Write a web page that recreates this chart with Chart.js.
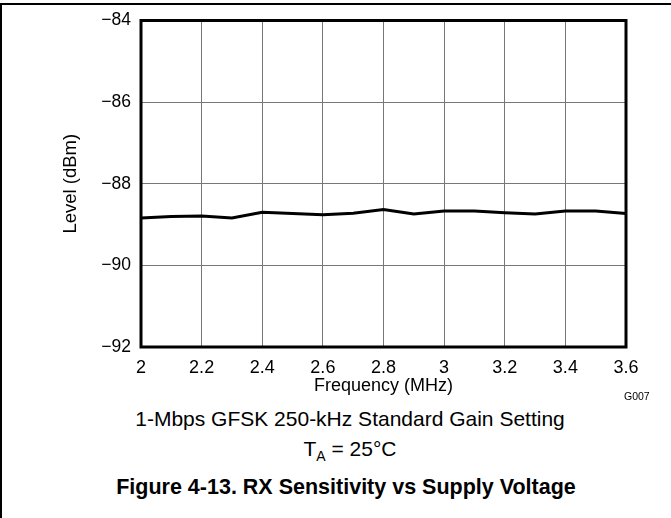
<!DOCTYPE html>
<html>
<head>
<meta charset="utf-8">
<script src="https://cdn.jsdelivr.net/npm/chart.js@4/dist/chart.umd.min.js"></script>
<style>
  html, body { margin: 0; padding: 0; background: #fff; }
  body { width: 671px; height: 518px; position: relative; overflow: hidden;
         font-family: "Liberation Sans", Arial, sans-serif; color: #000; }
  #frame { position: absolute; left: 0; top: 3px; width: 671px; height: 515px;
           border-top: 2px solid #000; border-left: 2px solid #000; box-sizing: border-box; }
  #wrap { position: absolute; left: 0; top: 0; width: 671px; height: 400px; }
  .txt { position: absolute; left: 0; text-align: center; white-space: nowrap; line-height: 1; }
  #g007 { position: absolute; left: 624px; top: 391px; font-size: 10.5px; line-height: 1; }
  #sub1 { top: 408px; width: 700px; font-size: 21px; }
  #sub2 { top: 438px; width: 700px; font-size: 21px; }
  #sub2 sub { font-size: 14px; vertical-align: baseline; position: relative; top: 5px; }
  #cap  { top: 477px; width: 692px; font-size: 21.5px; font-weight: bold; }
</style>
</head>
<body>
<div id="frame"></div>
<div id="wrap"><canvas id="chart-rx"></canvas></div>
<div id="g007">G007</div>
<div class="txt" id="sub1">1-Mbps GFSK 250-kHz Standard Gain Setting</div>
<div class="txt" id="sub2">T<sub>A</sub> = 25°C</div>
<div class="txt" id="cap">Figure 4-13. RX Sensitivity vs Supply Voltage</div>
<script>
// ─── Data ────────────────────────────────────────────────────────────────────

const freqMHz  = [2.0, 2.1, 2.2, 2.3, 2.4, 2.5, 2.6, 2.7, 2.8, 2.9, 3.0, 3.1, 3.2, 3.3, 3.4, 3.5, 3.6];
const levelDbm = [-88.84, -88.80, -88.79, -88.84, -88.70, -88.73, -88.76, -88.72, -88.63,
                  -88.74, -88.67, -88.67, -88.71, -88.74, -88.67, -88.67, -88.73];
const xTicks = [2, 2.2, 2.4, 2.6, 2.8, 3, 3.2, 3.4, 3.6];
const yTicks = [-92, -90, -88, -86, -84];

// ─── Chart ───────────────────────────────────────────────────────────────────

const FAMILY = '"Liberation Sans", Arial, sans-serif';
const GRID = { color: '#777', lineWidth: 1, drawTicks: false };

// thick box round the plot area
const frameBox = {
  id: 'frameBox',
  afterDatasetsDraw(chart) {
    const { ctx, chartArea: a } = chart;
    ctx.save();
    ctx.strokeStyle = '#000';
    ctx.lineWidth = 3;
    ctx.strokeRect(a.left, a.top, a.right - a.left, a.bottom - a.top);
    ctx.restore();
  },
};

new Chart(document.getElementById('chart-rx'), {
  type: 'line',
  data: {
    datasets: [{
      data: freqMHz.map((f, i) => ({ x: f, y: levelDbm[i] })),
      borderColor: '#000', borderWidth: 3, pointRadius: 0, tension: 0,
    }],
  },
  options: {
    responsive: true,
    maintainAspectRatio: false,
    animation: false,
    layout: { padding: { left: 60, top: 19, right: 45, bottom: 0 } },
    plugins: { legend: { display: false }, tooltip: { enabled: false } },
    scales: {
      x: {
        type: 'linear', min: 2, max: 3.6,
        afterBuildTicks: s => { s.ticks = xTicks.map(v => ({ value: v })); },
        afterFit: s => { s.height = 53; },
        ticks: { color: '#000', font: { family: FAMILY, size: 18 }, padding: 10, maxRotation: 0,
                 callback: v => String(v) },
        grid: GRID,
        border: { display: false },
        title: { display: true, text: 'Frequency (MHz)', color: '#000',
                 font: { family: FAMILY, size: 18 }, padding: { top: 0, bottom: 3 } },
      },
      y: {
        min: -92, max: -84,
        afterBuildTicks: s => { s.ticks = yTicks.map(v => ({ value: v })); },
        afterFit: s => { s.width = 81; },
        ticks: { color: '#000', font: { family: FAMILY, size: 17.5 }, padding: 10,
                 callback: v => '\u2212' + Math.abs(v) },
        grid: GRID,
        border: { display: false },
        title: { display: true, text: 'Level (dBm)', color: '#000',
                 font: { family: FAMILY, size: 18.5 }, padding: 0 },
      },
    },
  },
  plugins: [frameBox],
});
</script>
</body>
</html>
